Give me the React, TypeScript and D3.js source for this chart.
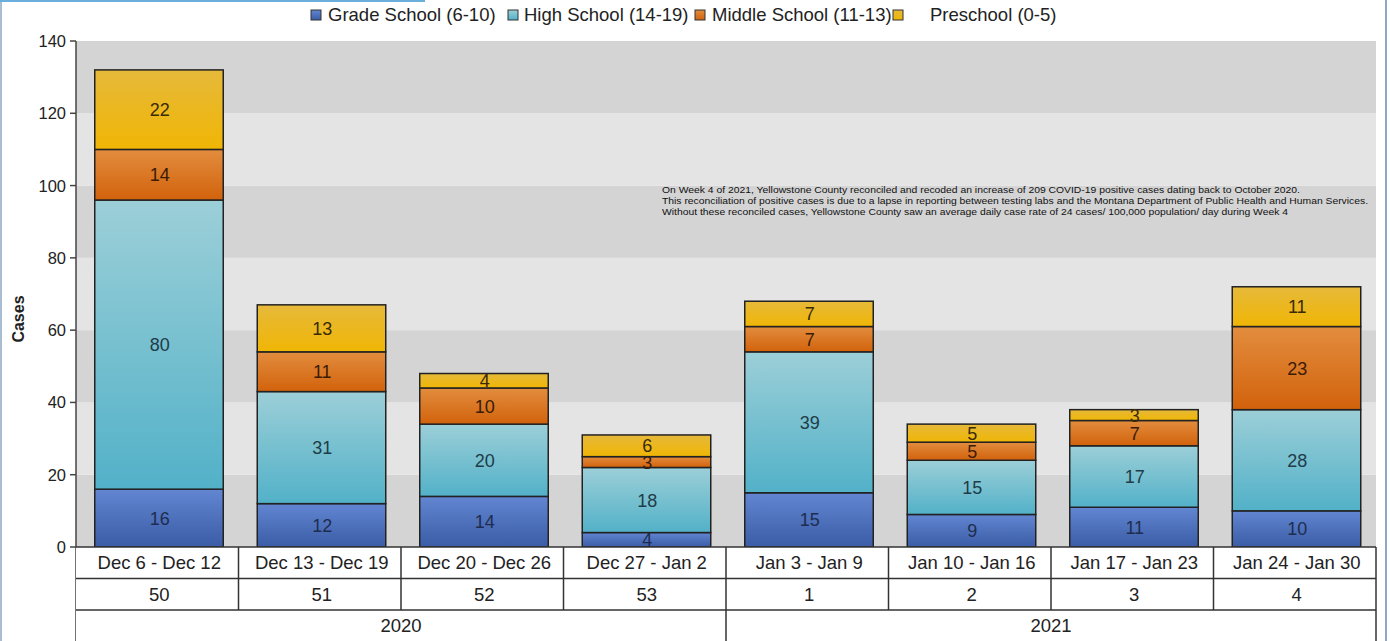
import React from 'react';
import * as d3 from 'd3';

const weeks = [
  'Dec 6 - Dec 12',
  'Dec 13 - Dec 19',
  'Dec 20 - Dec 26',
  'Dec 27 - Jan 2',
  'Jan 3 - Jan 9',
  'Jan 10 - Jan 16',
  'Jan 17 - Jan 23',
  'Jan 24 - Jan 30',
];
const weekNumbers = ['50', '51', '52', '53', '1', '2', '3', '4'];
const years = [
  { label: '2020', span: 4 },
  { label: '2021', span: 4 },
];

const gradeSchool = [16, 12, 14, 4, 15, 9, 11, 10];
const highSchool = [80, 31, 20, 18, 39, 15, 17, 28];
const middleSchool = [14, 11, 10, 3, 7, 5, 7, 23];
const preschool = [22, 13, 4, 6, 7, 5, 3, 11];

const yTicks = [0, 20, 40, 60, 80, 100, 120, 140];

const series = [
  { key: 'grade', name: 'Grade School (6-10)', values: gradeSchool, top: '#6286d2', bottom: '#3b5ca6', text: '#1e2d4f' },
  { key: 'high', name: 'High School (14-19)', values: highSchool, top: '#9ccfd8', bottom: '#52b1c8', text: '#1f3c48' },
  { key: 'middle', name: 'Middle School (11-13)', values: middleSchool, top: '#e28d3e', bottom: '#d2620c', text: '#3a1c05' },
  { key: 'pre', name: 'Preschool (0-5)', values: preschool, top: '#e6b93a', bottom: '#f0b605', text: '#3a2a05' },
];

const note = [
  'On Week 4 of 2021, Yellowstone County reconciled and recoded an increase of 209 COVID-19 positive cases dating back to October 2020.',
  'This reconciliation of positive cases is due to a lapse in reporting between testing labs and the Montana Department of Public Health and Human Services.',
  'Without these reconciled cases, Yellowstone County saw an average daily case rate of 24 cases/ 100,000 population/ day during Week 4',
];
const noteLengths = [638, 706, 626];

const legendX = [311, 508, 695, 893];
const legendTextX = [328, 524, 712, 930];

const W = 1390;
const H = 641;
const left = 76;
const right = 1376;
const top = 41;
const bottom = 547;
const rowH = 31.5;

const FONT = '"Liberation Sans", Arial, Helvetica, sans-serif';

export default function App() {
  const x = d3.scaleBand<string>().domain(weeks).range([left, right]).paddingInner(0.2).paddingOuter(0.1);
  const step = (right - left) / weeks.length;
  const y = d3.scaleLinear().domain([0, 140]).range([bottom, top]);

  const stackData = weeks.map((w, i) => {
    const row: Record<string, number | string> = { week: w };
    series.forEach((s) => (row[s.key] = s.values[i]));
    return row;
  });
  const stacked = d3.stack<Record<string, number | string>>().keys(series.map((s) => s.key))(stackData as any);

  const bands = yTicks.slice(0, -1).map((t, i) => ({ from: t, to: yTicks[i + 1], dark: i % 2 === 0 }));

  let yearStart = 0;
  const yearCells = years.map((yr) => {
    const cell = { label: yr.label, x0: left + yearStart * step, x1: left + (yearStart + yr.span) * step };
    yearStart += yr.span;
    return cell;
  });

  return (
    <svg width={W} height={H} style={{ position: 'absolute', left: 0, top: 0, background: '#fff' }} fontFamily={FONT}>
      <defs>
        {series.map((s) => (
          <linearGradient key={s.key} id={`g-${s.key}`} x1="0" y1="0" x2="0" y2="1">
            <stop offset="0%" stopColor={s.top} />
            <stop offset="100%" stopColor={s.bottom} />
          </linearGradient>
        ))}
      </defs>

      {/* frame */}
      <line x1={1} x2={1} y1={0} y2={H} stroke="#a9bdd2" strokeWidth={2} />
      <line x1={0} x2={425} y1={1} y2={1} stroke="#6aaedb" strokeWidth={2} />
      <line x1={1386} x2={1386} y1={0} y2={H} stroke="#8ea7c7" strokeWidth={2} />

      {/* legend */}
      {series.map((s, i) => (
        <g key={s.key}>
          <rect x={legendX[i]} y={10} width={10} height={10} fill={`url(#g-${s.key})`} stroke="#333" strokeWidth={1} />
          <text x={legendTextX[i]} y={21} fontSize={18.5} fill="#222">
            {s.name}
          </text>
        </g>
      ))}

      {/* plot background */}
      {bands.map((b, i) => (
        <rect key={i} x={left} y={y(b.to)} width={right - left} height={y(b.from) - y(b.to)} fill={b.dark ? '#d4d4d4' : '#e4e4e4'} />
      ))}

      {/* note */}
      {note.map((line, i) => (
        <text
          key={i}
          x={662}
          y={193 + i * 11}
          fontSize={9}
          fill="#111"
          fontFamily='"Liberation Sans Narrow", "Liberation Sans", Arial, sans-serif'
          textLength={noteLengths[i]}
          lengthAdjust="spacingAndGlyphs"
        >
          {line}
        </text>
      ))}

      {/* bars */}
      {stacked.map((layer, li) => {
        const s = series[li];
        return (
          <g key={s.key}>
            {layer.map((d, i) => {
              const w = weeks[i];
              const y0 = y(d[0]);
              const y1 = y(d[1]);
              return (
                <g key={w}>
                  <rect
                    x={(x(w) ?? 0) + 2.5}
                    y={y1}
                    width={x.bandwidth() - 1.5}
                    height={y0 - y1}
                    fill={`url(#g-${s.key})`}
                    stroke="#222"
                    strokeWidth={1.5}
                  />
                  <text
                    x={(x(w) ?? 0) + x.bandwidth() / 2 + 2.5}
                    y={(y0 + y1) / 2 + 6.5}
                    textAnchor="middle"
                    fontSize={18}
                    fill={s.text}
                  >
                    {d[1] - d[0]}
                  </text>
                </g>
              );
            })}
          </g>
        );
      })}

      {/* y axis */}
      <line x1={left} x2={left} y1={top} y2={H} stroke="#444" strokeWidth={1.5} />
      {yTicks.map((t) => (
        <g key={t}>
          <line x1={left - 6} x2={left} y1={y(t)} y2={y(t)} stroke="#444" strokeWidth={1.5} />
          <text x={left - 10} y={y(t) + 6} textAnchor="end" fontSize={16.5} fill="#222">
            {t}
          </text>
        </g>
      ))}
      <text transform={`translate(24,${(top + bottom) / 2 + 25}) rotate(-90)`} textAnchor="middle" fontSize={16} fontWeight="bold" fill="#222">
        Cases
      </text>

      {/* table */}
      <rect x={left} y={bottom} width={right - left} height={H - bottom + 2} fill="#fff" />
      {[0, 1, 2].map((r) => (
        <line key={r} x1={left} x2={right} y1={bottom + r * rowH} y2={bottom + r * rowH} stroke="#333" strokeWidth={1.5} />
      ))}
      <line x1={right} x2={right} y1={bottom} y2={H} stroke="#333" strokeWidth={1.5} />
      {weeks.map((w, i) => (
        <g key={w}>
          {i > 0 && <line x1={left + i * step} x2={left + i * step} y1={bottom} y2={bottom + 2 * rowH} stroke="#333" strokeWidth={1.5} />}
          <text x={left + (i + 0.5) * step + 2} y={bottom + 22} textAnchor="middle" fontSize={18.5} fill="#222">
            {w}
          </text>
          <text x={left + (i + 0.5) * step + 2} y={bottom + rowH + 22} textAnchor="middle" fontSize={18.5} fill="#222">
            {weekNumbers[i]}
          </text>
        </g>
      ))}
      {yearCells.map((c, i) => (
        <g key={c.label}>
          {i > 0 && <line x1={c.x0} x2={c.x0} y1={bottom + 2 * rowH} y2={H} stroke="#333" strokeWidth={1.5} />}
          <text x={(c.x0 + c.x1) / 2} y={bottom + 2 * rowH + 22} textAnchor="middle" fontSize={18.5} fill="#222">
            {c.label}
          </text>
        </g>
      ))}
    </svg>
  );
}
